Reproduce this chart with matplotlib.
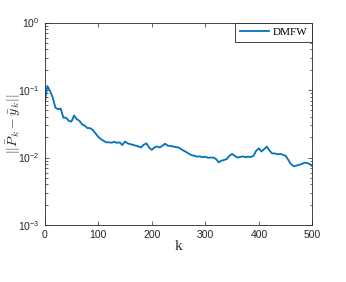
import matplotlib
matplotlib.use('Agg')
import matplotlib.pyplot as plt
import numpy as np

plt.rcParams['font.family'] = 'Liberation Sans'
plt.rcParams['mathtext.fontset'] = 'cm'

k = np.arange(0, 501, 5)
err = [0.062, 0.115, 0.097, 0.078, 0.055, 0.052, 0.053, 0.039, 0.039, 0.035,
       0.034, 0.042, 0.037, 0.035, 0.031, 0.0296, 0.0273, 0.0273, 0.0255, 0.0228,
       0.0203, 0.0188, 0.0177, 0.0168, 0.0168, 0.0166, 0.0171, 0.0165, 0.0168, 0.0153,
       0.0173, 0.0162, 0.0158, 0.0154, 0.0150, 0.0146, 0.0141, 0.0155, 0.0162, 0.0141,
       0.0130, 0.0141, 0.0146, 0.0141, 0.0150, 0.0160, 0.0150, 0.0148, 0.0146, 0.0143,
       0.0141, 0.0133, 0.0126, 0.0120, 0.0113, 0.0108, 0.0106, 0.0103, 0.0104, 0.0101,
       0.0103, 0.0099, 0.0100, 0.0100, 0.0095, 0.0085, 0.0090, 0.0092, 0.0095, 0.0106,
       0.0113, 0.0106, 0.0100, 0.0102, 0.0104, 0.0101, 0.0103, 0.0102, 0.0106, 0.0126,
       0.0137, 0.0123, 0.0134, 0.0145, 0.0126, 0.0115, 0.0115, 0.0112, 0.0113, 0.0110,
       0.0106, 0.0092, 0.0080, 0.0074, 0.0076, 0.0078, 0.0080, 0.0084, 0.0083, 0.0080,
       0.0074]

fig = plt.figure(figsize=(3.46, 2.82), dpi=100)
ax = fig.add_axes([0.129, 0.202, 0.774, 0.718])

ax.semilogy(k, err, color='#0072BD', linewidth=1.3, label='DMFW')
ax.set_xlim(0, 500)
ax.set_ylim(1e-3, 1)
ax.set_xticks([0, 100, 200, 300, 400, 500])
ax.tick_params(which='both', direction='in', top=True, right=True, labelsize=7.5,
               colors='#262626', width=0.5)
ax.tick_params(which='major', length=3)
ax.tick_params(which='minor', length=1.8)
for s in ax.spines.values():
    s.set_linewidth(0.6)
    s.set_color('#262626')

ax.set_xlabel('k', family='Liberation Serif', fontsize=11, color='#262626', labelpad=0)
ax.set_ylabel(r'$||\bar{P}_k-\bar{y}_k||$', fontsize=10, color='#262626')
ax.yaxis.set_label_coords(-0.08, 0.5)

leg = ax.legend(loc='upper right', prop={'family': 'Liberation Serif', 'size': 8},
                fancybox=False, framealpha=1, edgecolor='#262626', borderaxespad=0,
                handlelength=2.6, handletextpad=0.3, borderpad=0.45)
leg.get_frame().set_linewidth(0.6)

fig.savefig('out.png', dpi=100)
